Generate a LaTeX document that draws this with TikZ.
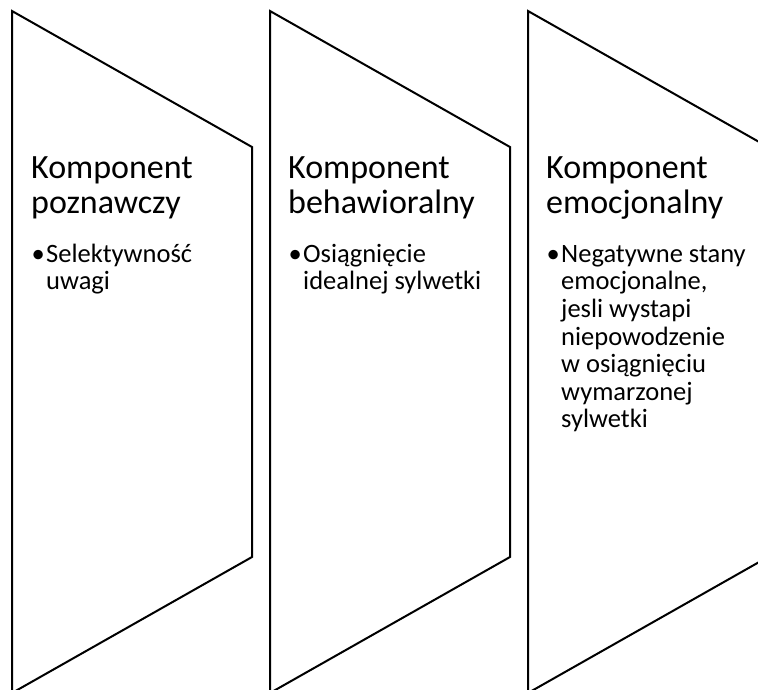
\documentclass[tikz,border=0pt]{standalone}
\usepackage{fontspec}
\setmainfont{Carlito}
\usetikzlibrary{positioning}

\tikzset{
  chevron/.style={draw=black, line width=2pt, line join=miter},
  heading/.style={anchor=north west, inner sep=0pt, align=left, font=\fontsize{34}{35.5}\selectfont},
  itemtext/.style={anchor=north west, inner sep=0pt, align=left, font=\fontsize{26.5}{27.6}\selectfont},
}
\newcommand{\dotmark}{\llap{\textbullet\hspace{1.5pt}}}
\newcommand{\toprule}[1]{\rule{0pt}{#1}}

\begin{document}
\begin{tikzpicture}[x=1pt,y=-1pt]
\useasboundingbox (0,0) rectangle (758,689);
\clip (0,0) rectangle (758,689);
% chevrons
\draw[chevron] (12,11) -- (252,147) -- (252,557) -- (12,693) -- cycle;
\draw[chevron] (270,11) -- (510,147) -- (510,557) -- (270,693) -- cycle;
\draw[chevron] (528,11) -- (768,147) -- (768,557) -- (528,693) -- cycle;
% headings
\node[heading] (head1) at (31,150) {\toprule{28pt}Komponent\\poznawczy};
\node[heading] (head2) at (288,150) {\toprule{28pt}Komponent\\behawioralny};
\node[heading] (head3) at (546,150) {\toprule{28pt}Komponent\\emocjonalny};
% bullet texts
\node[itemtext] (item1) at (46,238) {\toprule{24pt}\dotmark Selektywność\\uwagi};
\node[itemtext] (item2) at (303,238) {\toprule{24pt}\dotmark Osiągnięcie\\idealnej sylwetki};
\node[itemtext] (item3) at (561,238) {\toprule{24pt}\dotmark Negatywne stany\\emocjonalne,\\jesli wystapi\\niepowodzenie\\w osiągnięciu\\wymarzonej\\sylwetki};
\end{tikzpicture}
\end{document}
